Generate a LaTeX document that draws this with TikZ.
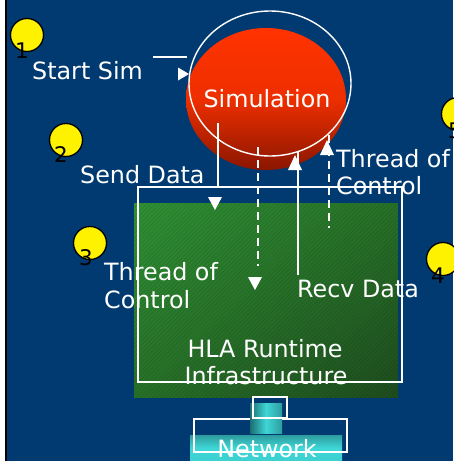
\documentclass[tikz,border=0pt]{standalone}
\usepackage{fontspec}
\setmainfont{DejaVu Sans}
\usetikzlibrary{shapes.geometric,patterns.meta,shadings}

\definecolor{navy}{HTML}{003A70}
\definecolor{simtop}{HTML}{FF3300}
\definecolor{simbot}{HTML}{8A1600}
\definecolor{rtigreen}{HTML}{2F9034}
\definecolor{rtimid}{HTML}{277028}
\definecolor{rtidark}{HTML}{1E4C1E}
\definecolor{tealdark}{HTML}{1C6E72}
\definecolor{tealbright}{HTML}{3ED6D6}
\definecolor{tealmid}{HTML}{2E9C9E}

\tikzset{
  label/.style={text=white, inner sep=0pt, font=\fontsize{23.8}{28}\selectfont},
  marker/.style={circle, draw=black, line width=1.3pt, fill=yellow, minimum size=33pt, inner sep=0pt},
  markernum/.style={text=black, inner sep=0pt, anchor=base, font=\fontsize{21.5}{24}\selectfont},
  wire/.style={draw=white, line width=1.4pt},
  dashwire/.style={draw=white, line width=1.4pt, dash pattern=on 8pt off 5pt},
}

\begin{document}
\begin{tikzpicture}[x=1pt, y=-1pt]
  % canvas
  \useasboundingbox (0,0) rectangle (453,461);
  \fill[white] (0,0) rectangle (5,461);
  \fill[navy] (5,0) rectangle (453,461);
  \fill[black] (5,0) rectangle (7,461);

  % numbered markers
  \node[marker] (m1) at (27,35) {};
  \node[markernum] (n1) at (22,58) {1};
  \node[marker] (m2) at (66,140) {};
  \node[markernum] (n2) at (61,162) {2};
  \node[marker] (m3) at (90,243) {};
  \node[markernum] (n3) at (86,265) {3};
  \node[marker] (m4) at (443,259) {};
  \node[markernum] (n4) at (438,283) {4};
  \node[marker] (m5) at (458,114) {};
  \node[markernum] (n5) at (455,138) {5};

  % simulation federate
  \shade[top color=simtop, bottom color=simbot, middle color=simtop!85!simbot]
    (266,99) ellipse [x radius=80, y radius=71];
  \node[ellipse, wire, minimum width=162pt, minimum height=145pt, inner sep=0pt] (sim) at (270,83.5) {};
  \node[label, anchor=base] (simtext) at (267,107) {Simulation};

  % runtime infrastructure block
  \shade[upper left=rtigreen, upper right=rtimid, lower left=rtimid, lower right=rtidark]
    (134,203) rectangle (398,397);
  \fill[pattern={Lines[angle=45,distance=3pt,line width=0.5pt]}, pattern color=black, opacity=0.12]
    (134,203) rectangle (398,397);
  \node[draw=white, line width=1.4pt, minimum width=264pt, minimum height=195pt, inner sep=0pt] (rti) at (270,284.5) {};

  % network link and bus
  \shade[top color=tealmid, bottom color=tealbright!90!tealmid, middle color=tealbright]
    (190,435) rectangle (342,461);
  \node[draw=white, line width=1.4pt, minimum width=153pt, minimum height=33pt, inner sep=0pt] (net) at (270.5,435.5) {};
  \shade[left color=tealdark, right color=tealmid, middle color=tealbright]
    (250,403) rectangle (282,433);
  \node[draw=white, line width=1.4pt, minimum width=34pt, minimum height=21pt, inner sep=0pt] (link) at (270,407.5) {};

  % connector end points
  \coordinate (startA) at (153,57);
  \coordinate (startB) at (187,57);
  \coordinate (sendA) at (218,123);
  \coordinate (sendB) at (218,187);
  \coordinate (thrA) at (258,147);
  \coordinate (thrB) at (258,266);
  \coordinate (recvA) at (298,151);
  \coordinate (recvB) at (298,275);
  \coordinate (thrUpA) at (329,135);
  \coordinate (thrUpB) at (329,228);

  % connectors
  \draw[wire] (startA) -- (startB);
  \draw[wire] (sendA) -- (sendB);
  \draw[dashwire] (thrA) -- (thrB);
  \draw[wire] (recvA) -- (recvB);
  \draw[dashwire] (thrUpA) -- (thrUpB);

  % arrow heads
  \fill[white] (189,74) -- (178,67.5) -- (178,80.5) -- cycle;
  \fill[white] (215,210) -- (208,197) -- (222,197) -- cycle;
  \fill[white] (255,290) -- (248,277) -- (262,277) -- cycle;
  \fill[white] (295,155) -- (288,170) -- (302,170) -- cycle;
  \fill[white] (327,140) -- (320,155) -- (334,155) -- cycle;

  % labels
  \node[label, anchor=base west] (start) at (32,79) {Start Sim};
  \node[label, anchor=base west] (send) at (80,183) {Send Data};
  \node[label, anchor=base west] (thrL1) at (104,280) {Thread of};
  \node[label, anchor=base west] (thrL2) at (104,308) {Control};
  \node[label, anchor=base west] (recv) at (297,297) {Recv Data};
  \node[label, anchor=base west] (thrR1) at (336,167) {Thread of};
  \node[label, anchor=base west] (thrR2) at (336,194) {Control};
  \node[label, anchor=base] (hla1) at (265,357) {HLA Runtime};
  \node[label, anchor=base] (hla2) at (266,384) {Infrastructure};
  \node[label, anchor=base] (nettext) at (267,457) {Network};
\end{tikzpicture}
\end{document}
